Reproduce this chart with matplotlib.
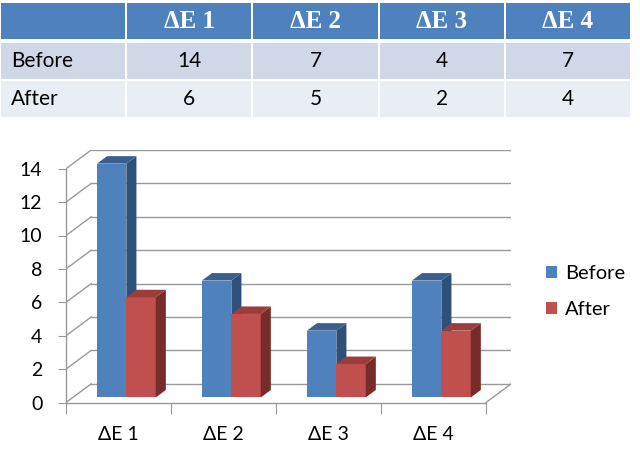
import matplotlib
matplotlib.use("Agg")
import matplotlib.pyplot as plt
from matplotlib.patches import Rectangle, Polygon, Patch

plt.rcParams['font.family'] = ['Lato', 'DejaVu Sans']

categories = ['ΔE 1', 'ΔE 2', 'ΔE 3', 'ΔE 4']
series_names = ['Before', 'After']
before = [14, 7, 4, 7]
after = [6, 5, 2, 4]
y_ticks = [0, 2, 4, 6, 8, 10, 12, 14]

# colours: front, side, top
blue = ('#4F81BD', '#2F5079', '#3A5F8F')
red = ('#C0504D', '#772C2A', '#9B3D3A')
grid_col = '#999999'

W, H = 640, 475
fig = plt.figure(figsize=(W / 100, H / 100), dpi=100)

# ---- table on top (pixel coords) ----
tab = fig.add_axes([0, 0, 1, 1])
tab.set_xlim(0, W)
tab.set_ylim(H, 0)
tab.axis('off')

col_edges = [0, 126, 252, 379, 505, 631]
row_edges = [(3, 39), (43, 79), (81, 117)]
row_fill = ['#4F81BD', '#D0D8E8', '#E9EDF4']
rows = [[''] + categories,
        [series_names[0]] + [str(v) for v in before],
        [series_names[1]] + [str(v) for v in after]]
for r, (y0, y1) in enumerate(row_edges):
    for c in range(5):
        x0, x1 = col_edges[c] + 1, col_edges[c + 1] - 1
        tab.add_patch(Rectangle((x0, y0), x1 - x0, y1 - y0, facecolor=row_fill[r],
                                edgecolor='none'))
        txt = rows[r][c]
        if not txt:
            continue
        yc = (y0 + y1) / 2
        if r == 0:
            tab.text((x0 + x1) / 2, yc + 1, txt, ha='center', va='center', color='white',
                     fontsize=18, fontweight='bold', family=['Liberation Serif', 'DejaVu Serif'])
        elif c == 0:
            tab.text(11, yc, txt, ha='left', va='center', fontsize=15, color='black')
        else:
            tab.text((x0 + x1) / 2, yc, txt, ha='center', va='center', fontsize=15, color='black')

# ---- 3D-looking column chart ----
DX, DV = 0.24, 1.12          # depth of the wall in data units
FRONT, BD = 0.27, 0.40       # bar front position / bar depth as fraction of wall depth
x_px0, x_scale = 66, 105
y_px0, y_scale = 402.5, 16.7
xmax, ymax = 4 + DX, 14 + DV
ax = fig.add_axes([x_px0 / W, (H - y_px0) / H, xmax * x_scale / W, ymax * y_scale / H])
ax.set_xlim(0, xmax)
ax.set_ylim(0, ymax)
ax.patch.set_alpha(0)

for s in ['top', 'right']:
    ax.spines[s].set_visible(False)
ax.spines['left'].set_bounds(0, 14)
ax.spines['bottom'].set_bounds(0, 4)
for s in ['left', 'bottom']:
    ax.spines[s].set_color(grid_col)
    ax.spines[s].set_linewidth(1)

ax.set_yticks(y_ticks)
ax.set_yticklabels([str(v) for v in y_ticks])
ax.tick_params(axis='y', direction='out', length=6, color=grid_col, labelsize=14, pad=11)
ax.set_xticks(range(len(categories) + 1))
ax.set_xticklabels([])
ax.set_xticks([i + 0.5 for i in range(len(categories))], minor=True)
ax.set_xticklabels(categories, minor=True)
ax.tick_params(axis='x', which='major', direction='out', length=8, color=grid_col)
ax.tick_params(axis='x', which='minor', length=0, labelsize=14, pad=17)

# walls and floor
for v in y_ticks:
    ax.plot([DX, 4 + DX], [v + DV, v + DV], color=grid_col, lw=1, zorder=1)
    ax.plot([0, DX], [v, v + DV], color=grid_col, lw=1, zorder=1)
ax.plot([4, 4 + DX], [0, DV], color=grid_col, lw=1, zorder=1)

fx, fv = FRONT * DX, FRONT * DV
bx, bv = BD * DX, BD * DV
width = 0.28
start = 0.23
for s, (vals, cols) in enumerate([(before, blue), (after, red)]):
    for i, v in enumerate(vals):
        x0 = i + start + s * width + fx
        x1 = x0 + width
        ax.bar(x0, v, width=width, bottom=fv, align='edge', color=cols[0],
               edgecolor='none', zorder=3)
        top = v + fv
        ax.add_patch(Polygon([(x1, fv), (x1, top), (x1 + bx, top + bv), (x1 + bx, fv + bv)],
                             closed=True, facecolor=cols[1], edgecolor='none', zorder=3))
        ax.add_patch(Polygon([(x0, top), (x1, top), (x1 + bx, top + bv), (x0 + bx, top + bv)],
                             closed=True, facecolor=cols[2], edgecolor='none', zorder=3))

handles = [Patch(facecolor=blue[0], label=series_names[0]),
           Patch(facecolor=red[0], label=series_names[1])]
fig.legend(handles=handles, loc='upper left', bbox_to_anchor=(546 / W, 1 - 265 / H),
           frameon=False, fontsize=14.5, handlelength=0.55, handleheight=0.55,
           handletextpad=0.4, labelspacing=0.95, borderpad=0, borderaxespad=0)

fig.savefig('out.png', dpi=100)
